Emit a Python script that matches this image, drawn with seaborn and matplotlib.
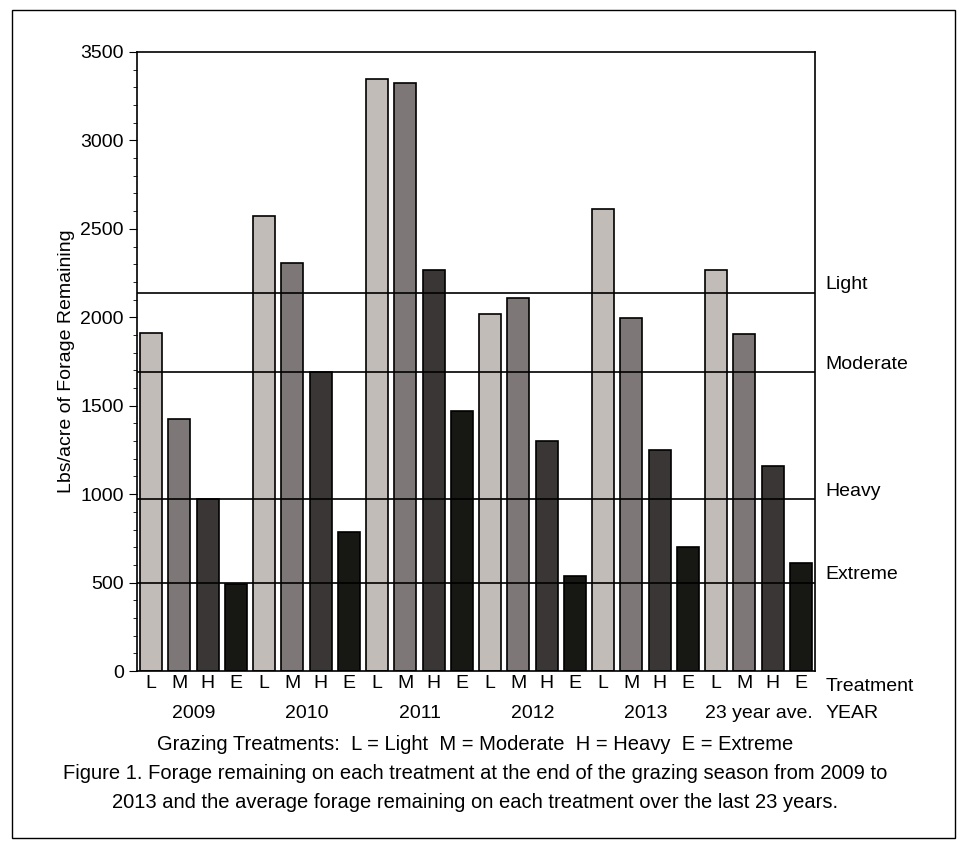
import pandas as pd
import matplotlib.pyplot as plt
import seaborn as sns
from matplotlib.ticker import MultipleLocator
from matplotlib.patches import Rectangle

years = ['2009', '2010', '2011', '2012', '2013', '23 year ave.']
treatments = ['L', 'M', 'H', 'E']
light = [1910, 2575, 3350, 2020, 2610, 2270]
moderate = [1425, 2305, 3325, 2110, 1995, 1905]
heavy = [975, 1690, 2270, 1300, 1250, 1160]
extreme = [490, 785, 1470, 535, 700, 610]
ref_names = ['Light', 'Moderate', 'Heavy', 'Extreme']
ref_values = [2140, 1690, 970, 500]
colors = ['#c3bcb7', '#7e7776', '#3a3634', '#171813']

rows = []
for i, y in enumerate(years):
    for t, vals in zip(treatments, [light, moderate, heavy, extreme]):
        rows.append({'key': f'{y}-{t}', 'year': y, 'treatment': t, 'value': vals[i]})
df = pd.DataFrame(rows)

sns.set_style('white')
plt.rcParams['font.family'] = ['Liberation Sans', 'DejaVu Sans']
plt.rcParams['text.color'] = 'black'
plt.rcParams['xtick.color'] = 'black'
plt.rcParams['ytick.color'] = 'black'
plt.rcParams['axes.labelcolor'] = 'black'

fig = plt.figure(figsize=(9.61, 8.46), dpi=100)
ax = fig.add_axes([137 / 961, 1 - 671 / 846, (815 - 137) / 961, (671 - 52) / 846])
sns.barplot(data=df, x='key', y='value', hue='treatment', palette=colors,
            dodge=False, width=0.78, edgecolor='black', linewidth=1.2,
            legend=False, ax=ax)

for name, v in zip(ref_names, ref_values):
    ax.axhline(v, color='black', lw=1.2, zorder=3)
    ax.text(1.015, v + 45, name, transform=ax.get_yaxis_transform(), va='center', fontsize=14)

ax.set_ylim(0, 3500)
ax.set_xlim(-0.5, 23.5)
ax.yaxis.set_major_locator(MultipleLocator(500))
ax.yaxis.set_minor_locator(MultipleLocator(100))
ax.tick_params(axis='y', which='major', direction='out', length=6, left=True, labelsize=14)
ax.tick_params(axis='y', which='minor', direction='out', length=3, left=True)
ax.set_xticks(range(len(df)))
ax.set_xticklabels(df['treatment'], fontsize=14)
ax.tick_params(axis='x', length=0, pad=3)
for s in ax.spines.values():
    s.set_color('black')
    s.set_linewidth(1.2)
ax.set_xlabel('')
ax.set_ylabel('Lbs/acre of Forage Remaining', fontsize=14)

for i, y in enumerate(years):
    ax.text(i * 4 + 1.5, -0.069, y, transform=ax.get_xaxis_transform(), ha='center', va='center', fontsize=14)
ax.text(1.015, -0.025, 'Treatment', transform=ax.transAxes, va='center', fontsize=14)
ax.text(1.015, -0.069, 'YEAR', transform=ax.transAxes, va='center', fontsize=14)

fig.text(475 / 961, 1 - 744 / 846, 'Grazing Treatments:  L = Light  M = Moderate  H = Heavy  E = Extreme',
         ha='center', va='center', fontsize=14.5)
fig.text(475 / 961, 1 - 773 / 846, 'Figure 1. Forage remaining on each treatment at the end of the grazing season from 2009 to',
         ha='center', va='center', fontsize=14.5)
fig.text(475 / 961, 1 - 802 / 846, '2013 and the average forage remaining on each treatment over the last 23 years.',
         ha='center', va='center', fontsize=14.5)

fig.patches.append(Rectangle((12 / 961, 8 / 846), 943 / 961, 828 / 846, transform=fig.transFigure,
                             fill=False, edgecolor='black', lw=1))

fig.savefig('out.png', dpi=100)
